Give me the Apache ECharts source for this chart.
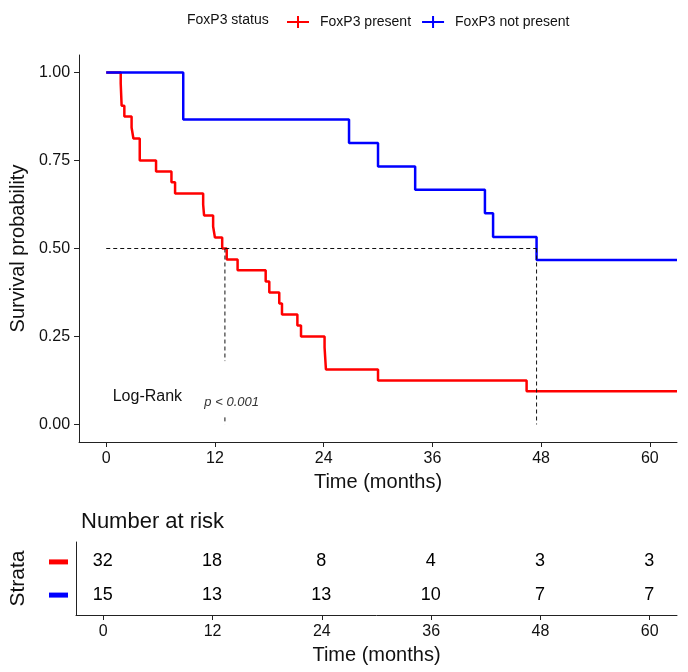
<!DOCTYPE html>
<html>
<head>
<meta charset="utf-8" />
<title>FoxP3 survival</title>
<script src="https://cdn.jsdelivr.net/npm/echarts@6.0.0/dist/echarts.min.js"></script>
<style>body{margin:0;background:#fff}</style>
</head>
<body>
<div id="main" style="width:688px;height:672px"></div>
<script type="text/javascript">
// ticks
var timeTicks = [0, 12, 24, 36, 48, 60];
var survTicks = [0, 0.25, 0.5, 0.75, 1];
var groups = ['FoxP3 present', 'FoxP3 not present'];

// Kaplan-Meier steps
var redTime = [0, 1.6, 1.7, 2.0, 2.8, 3.0, 3.7, 5.5, 7.2, 7.6, 10.7, 10.8, 11.8, 12.0, 12.8, 13.3, 14.5, 17.6, 18.0, 19.1, 19.4, 21.1, 21.5, 24.1, 24.25, 30.0, 46.4, 63];
var redSurv = [1, 0.969, 0.906, 0.875, 0.844, 0.8125, 0.75, 0.719, 0.688, 0.656, 0.625, 0.594, 0.5625, 0.531, 0.5, 0.469, 0.438, 0.406, 0.375, 0.344, 0.3125, 0.281, 0.25, 0.219, 0.156, 0.125, 0.094, 0.094];
var blueTime = [0, 8.5, 26.8, 30.0, 34.1, 41.8, 42.7, 47.5, 63];
var blueSurv = [1, 0.867, 0.8, 0.733, 0.667, 0.6, 0.533, 0.467, 0.467];

// median survival
var medianTime = [13.1, 47.5];

// number at risk
var riskRed = [32, 18, 8, 4, 3, 3];
var riskBlue = [15, 13, 13, 10, 7, 7];

var myChart = echarts.init(document.getElementById('main'));
var font = 'Liberation Sans, Arial, sans-serif';

function zip(xs, ys) {
  return xs.map(function (x, i) { return [x, ys[i]]; });
}

function timeAxis(gridIndex) {
  return {
    type: 'value', gridIndex: gridIndex, min: -3, max: 63,
    name: 'Time (months)', nameLocation: 'middle', nameGap: 30,
    nameTextStyle: { fontSize: 20, color: '#111', fontFamily: font },
    axisLine: { onZero: false, lineStyle: { color: '#222', width: 1 } },
    axisTick: { show: true, length: 5, customValues: timeTicks, lineStyle: { color: '#222' } },
    axisLabel: { customValues: timeTicks, fontSize: 16, color: '#111', margin: 9, fontFamily: font },
    splitLine: { show: false }
  };
}

var dashed = { color: '#111', width: 1, type: [4, 3] };
var hidden = { color: 'rgba(0,0,0,0)' };

function textLabel(size, extra) {
  var l = { show: true, position: [0, 0], align: 'center', verticalAlign: 'middle',
    fontSize: size, color: '#000', opacity: 1, textBorderWidth: 0, fontFamily: font };
  for (var k in extra) l[k] = extra[k];
  return l;
}

var option = {
  animation: false,
  backgroundColor: '#fff',
  textStyle: { fontFamily: font },
  title: [{
    text: 'Number at risk', left: 76, top: 506,
    textStyle: { fontSize: 22, fontWeight: 'normal', color: '#111', fontFamily: font }
  }],
  graphic: [{
    type: 'text', left: 187, top: 13,
    style: { text: 'FoxP3 status', fontSize: 14, fill: '#111', fontFamily: font }
  }],
  legend: {
    data: groups, left: 282, top: 10, itemWidth: 22, itemHeight: 12, itemGap: 11,
    icon: 'path://M0,5h22v2H0z M10,0h2v12h-2z',
    textStyle: { fontSize: 14, color: '#111', padding: [0, 0, 0, 6], fontFamily: font }
  },
  grid: [
    { left: 76, right: 11, top: 55, height: 387 },
    { left: 76, right: 11, top: 542, height: 73 }
  ],
  xAxis: [timeAxis(0), timeAxis(1)],
  yAxis: [{
    type: 'value', gridIndex: 0, min: -0.05, max: 1.05,
    name: 'Survival probability', nameLocation: 'middle', nameGap: 46,
    nameTextStyle: { fontSize: 20, color: '#111', fontFamily: font },
    axisLine: { show: true, onZero: false, lineStyle: { color: '#222', width: 1 } },
    axisTick: { show: true, length: 5, customValues: survTicks, lineStyle: { color: '#222' } },
    axisLabel: {
      customValues: survTicks, fontSize: 16, color: '#111', margin: 9, fontFamily: font,
      formatter: function (v) { return v.toFixed(2); }
    },
    splitLine: { show: false }
  }, {
    type: 'value', gridIndex: 1, min: 0.4, max: 2.6,
    name: 'Strata', nameLocation: 'middle', nameGap: 47,
    nameTextStyle: { fontSize: 21, color: '#111', fontFamily: font },
    axisLine: { show: true, onZero: false, lineStyle: { color: '#222', width: 1 } },
    axisTick: { show: false },
    axisLabel: {
      customValues: [1, 2], margin: 8,
      formatter: function (v) { return v === 2 ? '{r| }' : '{b| }'; },
      rich: {
        r: { backgroundColor: '#ff0000', width: 19, height: 5 },
        b: { backgroundColor: '#0000ff', width: 19, height: 5 }
      }
    },
    splitLine: { show: false }
  }],
  series: [{
    name: groups[0], type: 'line', step: 'end', showSymbol: false,
    xAxisIndex: 0, yAxisIndex: 0, color: '#ff0000',
    lineStyle: { width: 2.5, color: '#ff0000' },
    data: zip(redTime, redSurv)
  }, {
    name: groups[1], type: 'line', step: 'end', showSymbol: false,
    xAxisIndex: 0, yAxisIndex: 0, color: '#0000ff',
    lineStyle: { width: 2.5, color: '#0000ff' },
    data: zip(blueTime, blueSurv)
  }, {
    name: 'median-h', type: 'line', showSymbol: false, lineStyle: dashed, silent: true,
    data: [[0, 0.5], [medianTime[1], 0.5]]
  }, {
    name: 'median-v1a', type: 'line', showSymbol: false, lineStyle: dashed, silent: true,
    data: [[medianTime[0], 0.5], [medianTime[0], 0.18]]
  }, {
    name: 'median-v1b', type: 'line', showSymbol: false, lineStyle: dashed, silent: true,
    data: [[medianTime[0], 0.02], [medianTime[0], 0]]
  }, {
    name: 'median-v2', type: 'line', showSymbol: false, lineStyle: dashed, silent: true,
    data: [[medianTime[1], 0.5], [medianTime[1], 0]]
  }, {
    name: 'logrank', type: 'scatter', symbolSize: 1, itemStyle: hidden, silent: true,
    xAxisIndex: 0, yAxisIndex: 0,
    data: [[4.6, 0.077]],
    label: textLabel(16, { formatter: 'Log-Rank', color: '#111' })
  }, {
    name: 'pval', type: 'scatter', symbolSize: 1, itemStyle: hidden, silent: true,
    xAxisIndex: 0, yAxisIndex: 0,
    data: [[13.9, 0.062]],
    label: textLabel(13, { formatter: 'p < 0.001', fontStyle: 'italic', color: '#333' })
  }, {
    name: 'risk-red', type: 'scatter', xAxisIndex: 1, yAxisIndex: 1,
    symbolSize: 1, itemStyle: hidden, silent: true,
    data: timeTicks.map(function (t, i) { return [t, 2, riskRed[i]]; }),
    label: textLabel(18, { formatter: function (p) { return p.value[2]; } })
  }, {
    name: 'risk-blue', type: 'scatter', xAxisIndex: 1, yAxisIndex: 1,
    symbolSize: 1, itemStyle: hidden, silent: true,
    data: timeTicks.map(function (t, i) { return [t, 1, riskBlue[i]]; }),
    label: textLabel(18, { formatter: function (p) { return p.value[2]; } })
  }]
};

myChart.setOption(option);
</script>
</body>
</html>
